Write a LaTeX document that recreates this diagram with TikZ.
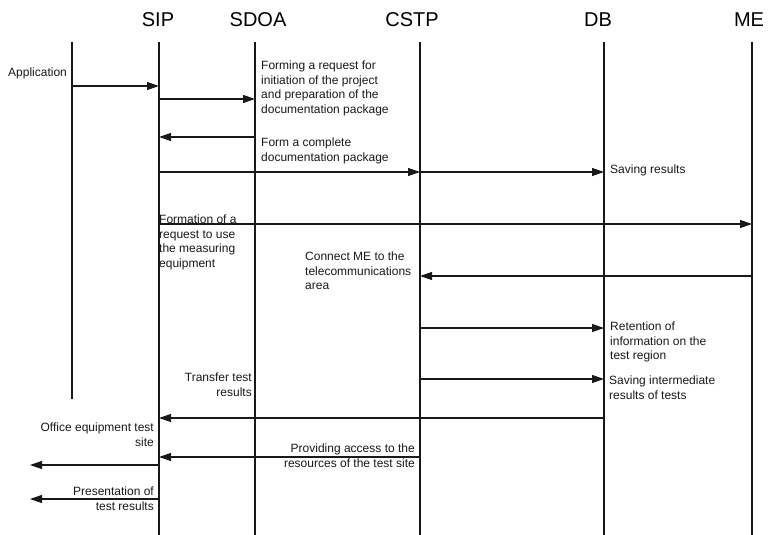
\documentclass[tikz,border=0pt]{standalone}
\usepackage{fontspec}
\setmainfont{Liberation Sans}
\usetikzlibrary{arrows.meta}
\begin{document}
\begin{tikzpicture}[x=1pt,y=-1pt,
  life/.style={line width=1.1pt, draw=black!90},
  msg/.style={line width=1.1pt, draw=black!90, -{Triangle[length=12pt,width=8pt]}},
  hdr/.style={font=\fontsize{20}{24}\selectfont, anchor=base, inner sep=0},
  lbl/.style={font=\fontsize{12}{14.4}\selectfont, text=black!90, inner sep=0, align=left, anchor=north west},
  lblr/.style={lbl, align=right, anchor=north east}]
\useasboundingbox[fill=white] (0,0) rectangle (769,535);
% headers
\node[hdr] (hSIP)  at (158,27) {SIP};
\node[hdr] (hSDOA) at (258,27) {SDOA};
\node[hdr] (hCSTP) at (412,27) {CSTP};
\node[hdr] (hDB)   at (598,27) {DB};
\node[hdr] (hME)   at (749,27) {ME};
% lifelines
\coordinate (appT) at (72,42);   \coordinate (appB) at (72,399);
\coordinate (sipT) at (159,42);  \coordinate (sipB) at (159,535);
\coordinate (sdoaT) at (255,42); \coordinate (sdoaB) at (255,535);
\coordinate (cstpT) at (420,42); \coordinate (cstpB) at (420,535);
\coordinate (dbT) at (604,42);   \coordinate (dbB) at (604,535);
\coordinate (meT) at (752,42);   \coordinate (meB) at (752,535);
\draw[life] (appT) -- (appB);
\draw[life] (sipT) -- (sipB);
\draw[life] (sdoaT) -- (sdoaB);
\draw[life] (cstpT) -- (cstpB);
\draw[life] (dbT) -- (dbB);
\draw[life] (meT) -- (meB);
% message end points
\coordinate (a1) at (72,86);   \coordinate (s1) at (159,86);
\coordinate (s2) at (159,99);  \coordinate (d2) at (255,99);
\coordinate (d3) at (255,137); \coordinate (s3) at (159,137);
\coordinate (s4) at (159,172); \coordinate (c4) at (420,172); \coordinate (b4) at (604,172);
\coordinate (s5) at (159,224); \coordinate (m5) at (752,224);
\coordinate (m6) at (752,276); \coordinate (c6) at (420,276);
\coordinate (c7) at (420,328); \coordinate (b7) at (604,328);
\coordinate (c8) at (420,379); \coordinate (b8) at (604,379);
\coordinate (b9) at (604,418); \coordinate (s9) at (159,418);
\coordinate (c10) at (420,457); \coordinate (s10) at (159,457);
\coordinate (s11) at (159,465); \coordinate (o11) at (30,465);
\coordinate (s12) at (159,499); \coordinate (o12) at (30,499);
% messages
\draw[msg] (a1) -- (s1);
\draw[msg] (s2) -- (d2);
\draw[msg] (d3) -- (s3);
\draw[msg] (s4) -- (c4);
\draw[msg] (c4) -- (b4);
\draw[msg] (s5) -- (m5);
\draw[msg] (m6) -- (c6);
\draw[msg] (c7) -- (b7);
\draw[msg] (c8) -- (b8);
\draw[msg] (b9) -- (s9);
\draw[msg] (c10) -- (s10);
\draw[msg] (s11) -- (o11);
\draw[msg] (s12) -- (o12);
% labels
\node[lbl] (l1) at (8,68) {Application};
\node[lbl] (l2) at (261,61) {Forming a request for\\initiation of the project\\and preparation of the\\documentation package};
\node[lbl] (l3) at (261,138) {Form a complete\\documentation package};
\node[lbl] (l4) at (610,165) {Saving results};
\node[lbl] (l5) at (159,215) {Formation of a\\request to use\\the measuring\\equipment};
\node[lbl] (l6) at (305,252) {Connect ME to the\\telecommunications\\area};
\node[lbl] (l7) at (610,322) {Retention of\\information on the\\test region};
\node[lbl] (l8) at (609,376) {Saving intermediate\\results of tests};
\node[lblr] (l9) at (252,373) {Transfer test\\results};
\node[lblr] (l10) at (415,444) {Providing access to the\\resources of the test site};
\node[lblr] (l11) at (154,423) {Office equipment test\\site};
\node[lblr] (l12) at (154,487) {Presentation of\\test results};
\end{tikzpicture}
\end{document}
